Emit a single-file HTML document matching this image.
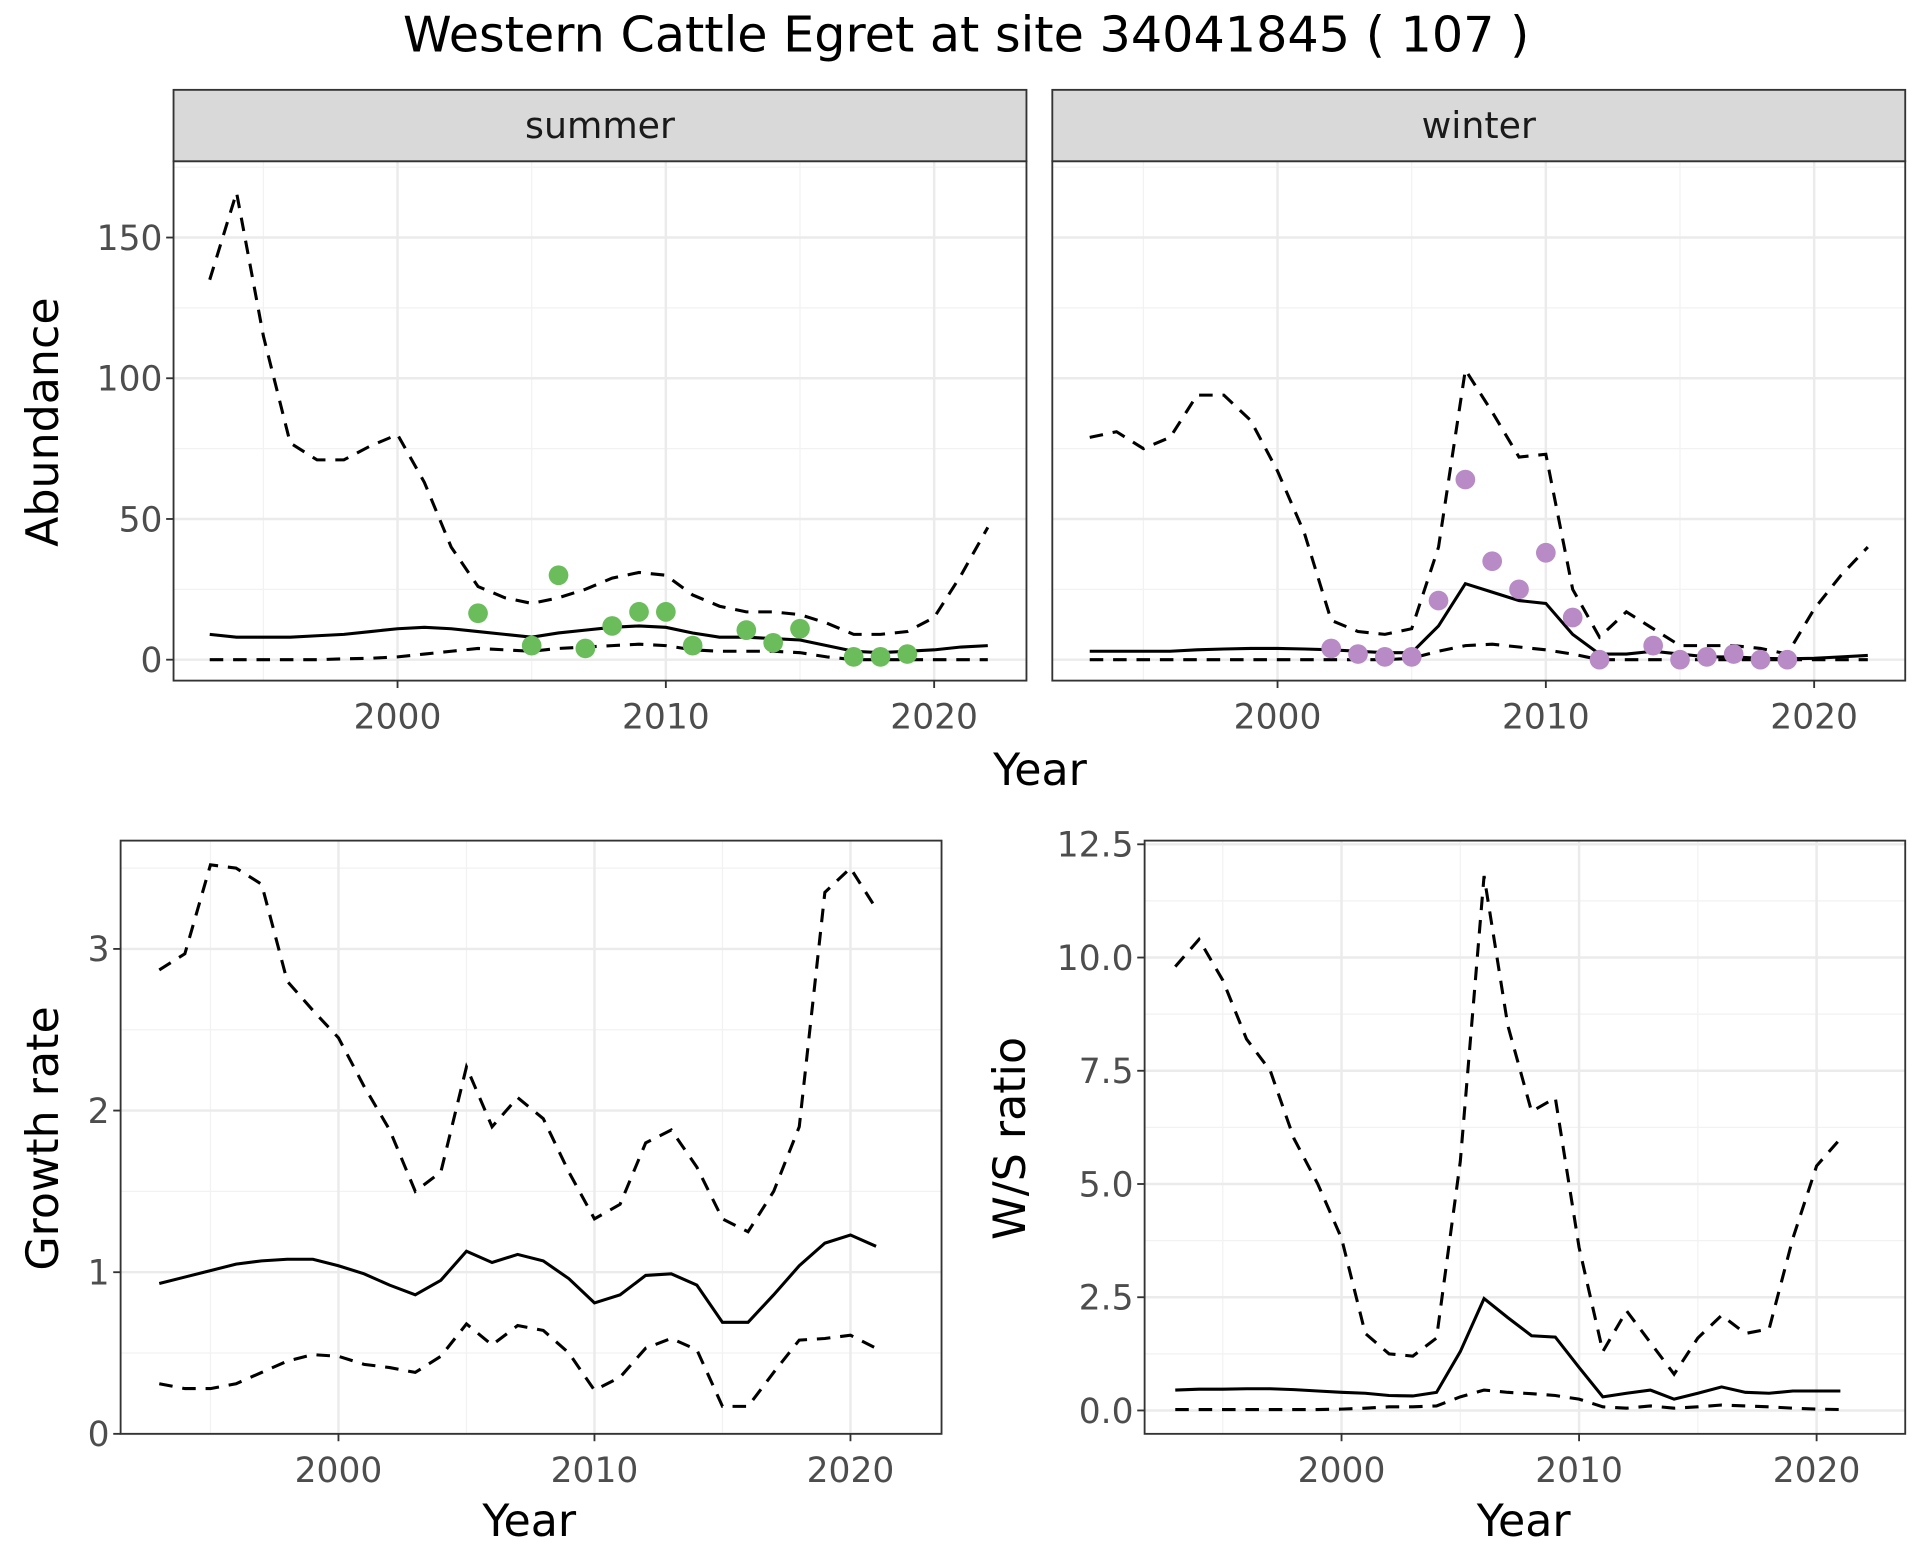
<!DOCTYPE html>
<html><head><meta charset="utf-8"><style>
html,body{margin:0;padding:0;background:#fff}
svg{display:block;font-family:"DejaVu Sans","Liberation Sans",sans-serif}
</style></head><body>
<svg id="c" width="1920" height="1560" viewBox="0 0 1560 1267.5" xmlns="http://www.w3.org/2000/svg">
<rect width="1560" height="1267.5" fill="#fff"/>
<text x="785" y="42" font-size="40" text-anchor="middle">Western Cattle Egret at site 34041845 ( 107 )</text>
</svg>
<script>
const yearsA=[1993,1994,1995,1996,1997,1998,1999,2000,2001,2002,2003,2004,2005,2006,2007,2008,2009,2010,2011,2012,2013,2014,2015,2016,2017,2018,2019,2020,2021,2022];
const sumUpper=[135,166,115,77,71,71,76,80,63,40,26,22,20,22,25,29,31,30,23,19,17,17,16,13,9,9,10,15,30,47];
const sumMean=[9,8,8,8,8.5,9,10,11,11.5,11,10,9,8,9.5,10.5,11.5,12,11.5,9.5,8,8,7.5,7,5,3,2.5,3,3.5,4.5,5];
const sumLower=[0,0,0,0,0,0.3,0.5,1,2,3,4,3.5,3,4,4.5,5,5.5,5,3.5,3,3,3,2.5,1,0,0,0,0,0,0];
const sumPtYears=[2003,2005,2006,2007,2008,2009,2010,2011,2013,2014,2015,2017,2018,2019];
const sumPtVals=[16.5,5,30,4,12,17,17,5,10.5,6,11,1,1,2];
const winUpper=[79,81,75,79,94,94,85,67,45,14,10,9,11,40,103,88,72,73,25,8,17,11,5,5,5,4,2,18,30,40];
const winMean=[3,3,3,3,3.5,3.8,4,4,3.8,3.5,3,2.5,2.5,12,27,24,21,20,9,2,2,3,2,1,1,0.5,0.3,0.5,1,1.5];
const winLower=[0,0,0,0,0,0,0,0,0,0,0,0,0.5,3,5,5.5,4.5,3.5,2,0,0,0,0,0,0,0,0,0,0,0];
const winPtYears=[2002,2003,2004,2005,2006,2007,2008,2009,2010,2011,2012,2014,2015,2016,2017,2018,2019];
const winPtVals=[4,2,1,1,21,64,35,25,38,15,0,5,0,1,2,0,0];
const yearsB=[1993,1994,1995,1996,1997,1998,1999,2000,2001,2002,2003,2004,2005,2006,2007,2008,2009,2010,2011,2012,2013,2014,2015,2016,2017,2018,2019,2020,2021];
const grUpper=[2.87,2.97,3.52,3.5,3.4,2.8,2.62,2.45,2.15,1.88,1.5,1.62,2.27,1.9,2.08,1.95,1.62,1.33,1.42,1.8,1.88,1.65,1.33,1.25,1.5,1.9,3.35,3.5,3.25];
const grMean=[0.93,0.97,1.01,1.05,1.07,1.08,1.08,1.04,0.99,0.92,0.86,0.95,1.13,1.06,1.11,1.07,0.96,0.81,0.86,0.98,0.99,0.92,0.69,0.69,0.86,1.04,1.18,1.23,1.16];
const grLower=[0.31,0.28,0.28,0.31,0.38,0.45,0.49,0.48,0.43,0.41,0.38,0.48,0.68,0.55,0.67,0.64,0.5,0.27,0.35,0.53,0.59,0.52,0.17,0.17,0.38,0.58,0.59,0.61,0.53];
const wsUpper=[9.8,10.4,9.5,8.2,7.5,6.0,5.0,3.8,1.7,1.25,1.2,1.6,5.5,11.8,8.5,6.6,6.9,3.6,1.3,2.2,1.5,0.8,1.6,2.1,1.7,1.8,3.8,5.4,6.0];
const wsMean=[0.45,0.47,0.47,0.48,0.48,0.46,0.43,0.4,0.38,0.33,0.32,0.4,1.3,2.47,2.05,1.65,1.62,0.95,0.3,0.38,0.45,0.25,0.38,0.52,0.4,0.38,0.43,0.43,0.43];
const wsLower=[0.02,0.02,0.02,0.02,0.02,0.02,0.02,0.03,0.05,0.08,0.08,0.1,0.3,0.45,0.4,0.37,0.33,0.25,0.08,0.05,0.1,0.05,0.08,0.12,0.1,0.08,0.05,0.03,0.02];
const xTicks=[2000,2010,2020];
const abTicks=[0,50,100,150];
const grTicks=[0,1,2,3];
const wsTicks=[0,2.5,5,7.5,10,12.5];
const wsTickLabels=["0.0","2.5","5.0","7.5","10.0","12.5"];

const NS="http://www.w3.org/2000/svg";
const svg=document.getElementById('c');
function mk(tag,attrs,parent){const e=document.createElementNS(NS,tag);for(const k in attrs)e.setAttribute(k,attrs[k]);(parent||svg).appendChild(e);return e;}
function lin(d0,d1,r0,r1){return v=>r0+(v-d0)*(r1-r0)/(d1-d0);}

function panel(o){
  const g=mk('g',{});
  
  
  const X=lin(2000,2010,o.x2000,o.x2010), Y=lin(o.ya,o.yb,o.pya,o.pyb);
  mk('rect',{x:o.l,y:o.t,width:o.r-o.l,height:o.b-o.t,fill:'#fff'},g);
  const st=o.ticks[1]-o.ticks[0];
  for(let i=-1;i<o.ticks.length;i++){const m=o.ticks[0]+st*(i+0.5);const yy=Y(m);if(yy>o.t&&yy<o.b)mk('line',{x1:o.l,x2:o.r,y1:yy,y2:yy,stroke:'#f2f2f2','stroke-width':1},g);}
  [1995,2005,2015].forEach(v=>{const xx=X(v);mk('line',{x1:xx,x2:xx,y1:o.t,y2:o.b,stroke:'#f2f2f2','stroke-width':1},g);});
  o.ticks.forEach(v=>{const yy=Y(v);mk('line',{x1:o.l,x2:o.r,y1:yy,y2:yy,stroke:'#ebebeb','stroke-width':2},g);});
  xTicks.forEach(v=>{const xx=X(v);mk('line',{x1:xx,x2:xx,y1:o.t,y2:o.b,stroke:'#ebebeb','stroke-width':2},g);});
  const line=(ys,vals,dash,nm)=>{const p=mk('path',{d:vals.map((v,i)=>(i?'L':'M')+X(ys[i]).toFixed(2)+','+Y(v).toFixed(2)).join(''),fill:'none',stroke:'#000','stroke-width':2.5,'stroke-dasharray':dash?'11,8':'none'},g);};
  line(o.years,o.upper,true,'upper-bound-line');line(o.years,o.mean,false,'mean-line');line(o.years,o.lower,true,'lower-bound-line');
  if(o.ptY){o.ptY.forEach((yr,i)=>{const c=mk('circle',{cx:X(yr),cy:Y(o.ptV[i]),r:8,fill:o.ptC},g);});}
  mk('rect',{x:o.l,y:o.t,width:o.r-o.l,height:o.b-o.t,fill:'none',stroke:'#333','stroke-width':1.5},g);
  if(o.showY){o.ticks.forEach((v,i)=>{const yy=Y(v);mk('line',{x1:o.l-6,x2:o.l,y1:yy,y2:yy,stroke:'#333','stroke-width':1.5},g);const t=mk('text',{x:o.l-9,y:yy+10,'font-size':28,fill:'#4d4d4d','text-anchor':'end'},g);t.textContent=o.tl?o.tl[i]:v;});}
  xTicks.forEach(v=>{const xx=X(v);mk('line',{x1:xx,x2:xx,y1:o.b,y2:o.b+6,stroke:'#333','stroke-width':1.5},g);const t=mk('text',{x:xx,y:o.b+39,'font-size':28,fill:'#4d4d4d','text-anchor':'middle'},g);t.textContent=v;});
  if(o.strip){const s=mk('rect',{x:o.l,y:o.t-58,width:o.r-o.l,height:58,fill:'#d9d9d9',stroke:'#333','stroke-width':1.5},g);const t=mk('text',{x:(o.l+o.r)/2,y:o.t-19,'font-size':29.5,fill:'#1a1a1a','text-anchor':'middle'},g);t.textContent=o.strip;}
  if(o.xlab){const t=mk('text',{x:o.xlab[0],y:o.xlab[1],'font-size':36,'text-anchor':'middle'},g);t.textContent='Year';}
  if(o.ylab){const t=mk('text',{x:0,y:0,'font-size':36,'text-anchor':'middle',transform:`translate(${o.ylab[1]},${o.ylab[2]}) rotate(-90)`},g);t.textContent=o.ylab[0];}
}
panel({name:'summer-panel',l:141,r:834,t:131,b:553,x2000:323,x2010:541,ya:0,yb:150,pya:536,pyb:193,ticks:abTicks,showY:true,years:yearsA,upper:sumUpper,mean:sumMean,lower:sumLower,ptY:sumPtYears,ptV:sumPtVals,ptC:'#6abd5a',strip:'summer',ylab:['Abundance',47,343]});
panel({name:'winter-panel',l:855,r:1548,t:131,b:553,x2000:1038,x2010:1256,ya:0,yb:150,pya:536,pyb:193,ticks:abTicks,showY:false,years:yearsA,upper:winUpper,mean:winMean,lower:winLower,ptY:winPtYears,ptV:winPtVals,ptC:'#b88ac6',strip:'winter',xlab:[845,638]});
panel({name:'growth-rate-panel',l:98,r:765,t:683,b:1165,x2000:275,x2010:483,ya:0,yb:3,pya:1165,pyb:771,ticks:grTicks,showY:true,years:yearsB,upper:grUpper,mean:grMean,lower:grLower,xlab:[430,1248],ylab:['Growth rate',47,925]});
panel({name:'ws-ratio-panel',l:930,r:1548,t:683,b:1165,x2000:1090,x2010:1283,ya:0,yb:12.5,pya:1146,pyb:686,ticks:wsTicks,tl:wsTickLabels,showY:true,years:yearsB,upper:wsUpper,mean:wsMean,lower:wsLower,xlab:[1238,1248],ylab:['W/S ratio',833,925]});
</script>
</body></html>
